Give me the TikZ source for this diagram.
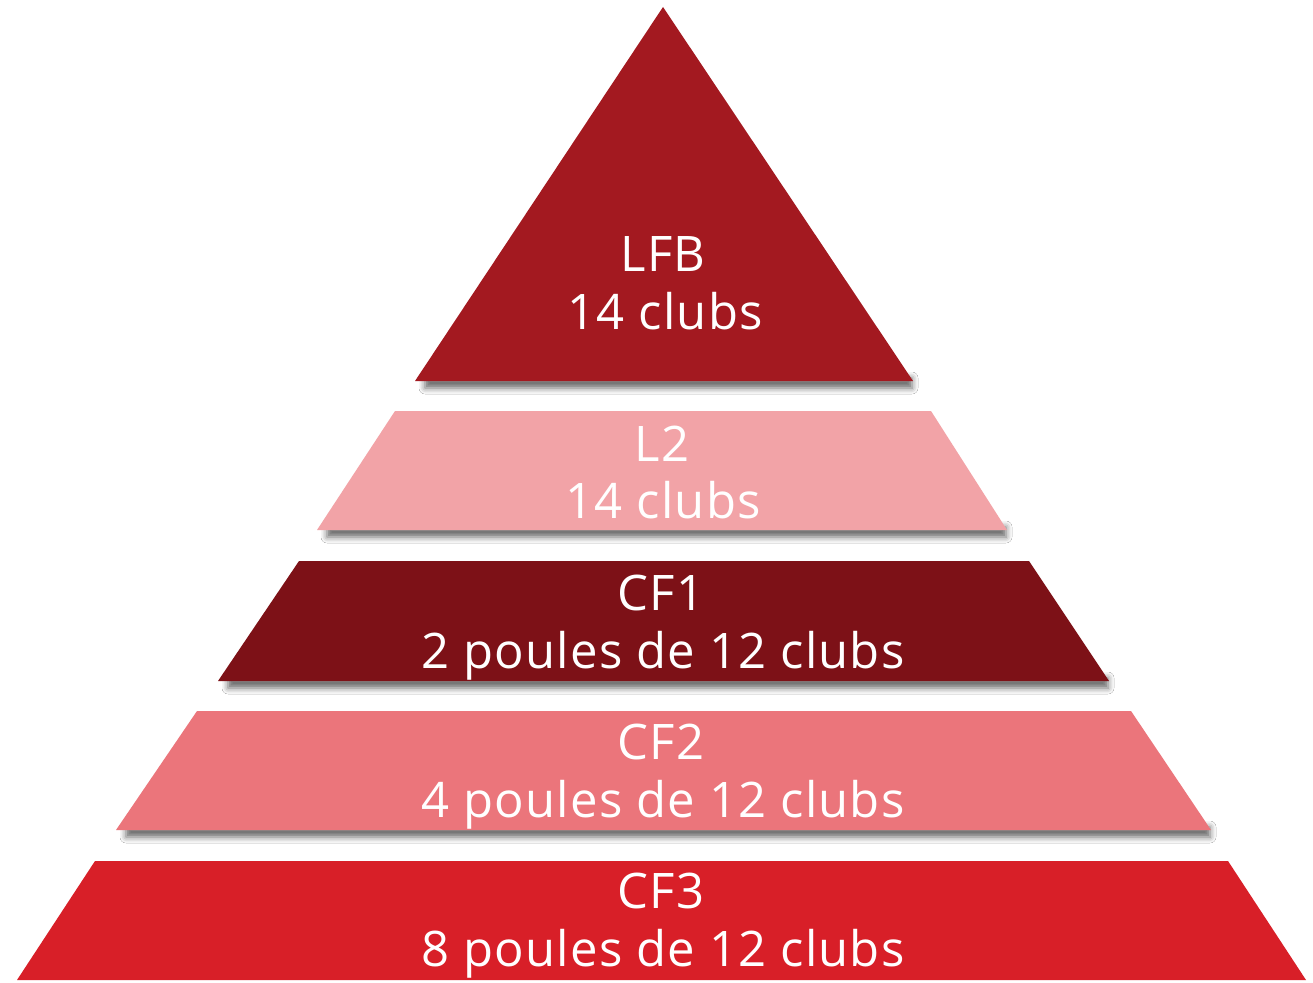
\documentclass[tikz,border=0pt]{standalone}
\usepackage{fontspec}
\setmainfont[LetterSpace=2.5]{Open Sans}
\usetikzlibrary{shadows.blur}
\definecolor{lfbred}{HTML}{A31920}
\definecolor{ltwopink}{HTML}{F2A3A7}
\definecolor{cfonered}{HTML}{7D1117}
\definecolor{cftwopink}{HTML}{EB757B}
\definecolor{cfthreered}{HTML}{D81F28}
\tikzset{
  shadowstrip/.style={draw=none, blur shadow={shadow xshift=2pt, shadow yshift=-7pt, shadow blur radius=6pt, shadow opacity=60}},
  lbl/.style={anchor=base, text=white, inner sep=0pt, font=\fontsize{49}{58}\selectfont}
}
\begin{document}
\begin{tikzpicture}[x=1pt,y=-1pt]
\useasboundingbox[fill=white] (0,0) rectangle (1313,982);
% shadows under each tier
\path[shadowstrip] (423,371) rectangle (910,381);
\path[shadowstrip] (325,520) rectangle (1004,530);
\path[shadowstrip] (226,671) rectangle (1106,681);
\path[shadowstrip] (124,820) rectangle (1208,830);
% tiers
\fill[fill=lfbred] (663,7) -- (913,381) -- (415,381) -- cycle;
\fill[fill=ltwopink] (395,411) -- (931,411) -- (1007,530) -- (317,530) -- cycle;
\fill[fill=cfonered] (299,561) -- (1029,561) -- (1109,681) -- (218,681) -- cycle;
\fill[fill=cftwopink] (197,711) -- (1131,711) -- (1211,830) -- (116,830) -- cycle;
\fill[fill=cfthreered] (95,861) -- (1228,861) -- (1306,980) -- (17,980) -- cycle;
% labels
\node[lbl] (lfbA) at (663,271) {LFB};
\node[lbl] (lfbB) at (665,329) {14 clubs};
\node[lbl] (ltwoA) at (662,461) {L2};
\node[lbl] (ltwoB) at (663,518) {14 clubs};
\node[lbl] (cfoneA) at (661,610) {CF1};
\node[lbl] (cfoneB) at (663,668) {2 poules de 12 clubs};
\node[lbl] (cftwoA) at (661,759) {CF2};
\node[lbl] (cftwoB) at (663,817) {4 poules de 12 clubs};
\node[lbl] (cfthreeA) at (661,908) {CF3};
\node[lbl] (cfthreeB) at (663,966) {8 poules de 12 clubs};
\end{tikzpicture}
\end{document}
